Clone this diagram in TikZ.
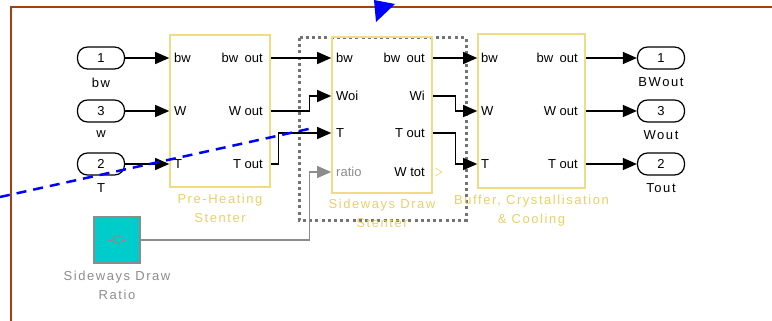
\documentclass[tikz,border=0pt]{standalone}
\usepackage{fontspec}
\setmainfont{Liberation Sans}
\newfontfamily\spacedfont[LetterSpace=12]{Liberation Sans}
\usetikzlibrary{arrows.meta, positioning}

\definecolor{framebrown}{RGB}{166,62,14}
\definecolor{blockyellow}{RGB}{240,220,130}
\definecolor{captyellow}{RGB}{232,208,105}
\definecolor{constcyan}{RGB}{0,204,204}
\definecolor{wiregray}{RGB}{140,140,140}
\definecolor{dotgray}{RGB}{115,115,115}
\definecolor{constred}{RGB}{195,115,115}

\begin{document}
\begin{tikzpicture}[x=1pt, y=-1pt,
    every node/.style={inner sep=0pt, font=\fontsize{13}{15}\selectfont},
    block/.style={draw=blockyellow, line width=1.6pt, rectangle},
    port/.style={text height=9pt, text depth=0pt},
    pill/.style={draw, line width=1.2pt, rectangle, rounded corners=10pt, minimum width=47pt, minimum height=22pt},
    iolabel/.style={font=\spacedfont\fontsize{13}{15}\selectfont},
    caption/.style={align=center, text=captyellow, font=\spacedfont\fontsize{13}{19}\selectfont},
    sig/.style={line width=1.2pt, -{Triangle[length=14pt,width=12pt]}},
    graysig/.style={sig, draw=wiregray}
]
\useasboundingbox (0,0) rectangle (772,321);

\draw [framebrown, line width=2.5pt] (11,321) -- (11,7) -- (772,7);

\node (in1) [pill] at (101,58) {1};
\node (in3) [pill] at (101,111) {3};
\node (in2) [pill] at (101,164) {2};
\node [iolabel, below=8pt of in1] {bw};
\node [iolabel, below=8pt of in3] {w};
\node [iolabel, below=8pt of in2] {T};

\node (pre) [block, minimum width=100pt, minimum height=152pt] at (220,111) {};
\node (preBw) [port, anchor=west] at (174,58) {bw};
\node (preW) [port, anchor=west] at (174,111) {W};
\node (preT) [port, anchor=west] at (174,164) {T};
\node (preBo) [port, anchor=east] at (263,58) {bw\enspace out};
\node (preWo) [port, anchor=east] at (263,111) {W out};
\node (preTo) [port, anchor=east] at (263,164) {T out};
\node [caption, below=6pt of pre] {Pre-Heating\\Stenter};

\draw [dotgray, line width=3pt, dash pattern=on 3pt off 3.2pt] (299,38) rectangle (466,220);

\node (side) [block, minimum width=100pt, minimum height=156pt] at (382,115) {};
\node (sideBw) [port, anchor=west] at (336,58) {bw};
\node (sideWoi) [port, anchor=west] at (336,96) {Woi};
\node (sideT) [port, anchor=west] at (336,133) {T};
\node (sideRatio) [port, anchor=west, text=wiregray] at (336,172) {ratio};
\node (sideBo) [port, anchor=east] at (425,58) {bw\enspace out};
\node (sideWi) [port, anchor=east] at (425,96) {Wi};
\node (sideTo) [port, anchor=east] at (425,133) {T out};
\node (sideWt) [port, anchor=east] at (425,172) {W tot};
\node [caption, below=5pt of side] {Sideways Draw\\Stenter};
\draw [blockyellow, thick] (side.east |- sideWt) ++(3,-4) -- ++(6,4) -- ++(-6,4);

\node (buf) [block, minimum width=107pt, minimum height=154pt] at (531.5,111) {};
\node (bufBw) [port, anchor=west] at (481,58) {bw};
\node (bufW) [port, anchor=west] at (481,111) {W};
\node (bufT) [port, anchor=west] at (481,164) {T};
\node (bufBo) [port, anchor=east] at (578,58) {bw\enspace out};
\node (bufWo) [port, anchor=east] at (578,111) {W out};
\node (bufTo) [port, anchor=east] at (578,164) {T out};
\node [caption, below=6pt of buf] {Buffer, Crystallisation\\\& Cooling};

\node (out1) [pill] at (661,58) {1};
\node (out3) [pill] at (661,111) {3};
\node (out2) [pill] at (661,164) {2};
\node [iolabel, below=8pt of out1] {BWout};
\node [iolabel, below=8pt of out3] {Wout};
\node [iolabel, below=8pt of out2] {Tout};

\node (ratio) [draw=wiregray, line width=1.2pt, fill=constcyan, minimum size=46pt] at (117,240) {\textcolor{constred}{-C-}};
\node [text=wiregray, align=center, below=7pt of ratio, font=\spacedfont\fontsize{13}{19}\selectfont] {Sideways Draw\\Ratio};

\draw [sig] (in1.east) -- (in1 -| pre.west);
\draw [sig] (in3.east) -- (in3 -| pre.west);
\draw [sig] (in2.east) -- (in2 -| pre.west);

\draw [sig] (preBo -| pre.east) -- (sideBw -| side.west);
\draw [sig] (preWo -| pre.east) -- ++(39,0) |- (sideWoi -| side.west);
\draw [sig] (preTo -| pre.east) -- ++(8,0) |- (sideT -| side.west);
\draw [graysig] (ratio.east) -- ++(169,0) |- (sideRatio -| side.west);

\draw [sig] (sideBo -| side.east) -- (bufBw -| buf.west);
\draw [sig] (sideWi -| side.east) -- ++(23,0) |- (bufW -| buf.west);
\draw [sig] (sideTo -| side.east) -- ++(23,0) |- (bufT -| buf.west);

\draw [sig] (bufBo -| buf.east) -- (out1.west);
\draw [sig] (bufWo -| buf.east) -- (out3.west);
\draw [sig] (bufTo -| buf.east) -- (out2.west);

\draw [blue, line width=2.5pt, dash pattern=on 10pt off 7pt] (0,197) -- (313,128);
\fill [blue] (374,0) -- (395,4) -- (376,22) -- cycle;
\end{tikzpicture}
\end{document}
